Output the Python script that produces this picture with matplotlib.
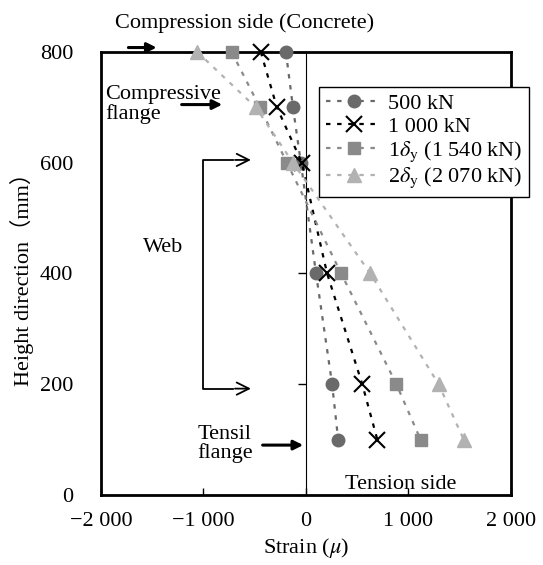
import matplotlib
matplotlib.use("Agg")
import matplotlib.pyplot as plt
from matplotlib.ticker import NullFormatter

plt.rcParams['font.family'] = ['Liberation Serif', 'Noto Sans CJK SC', 'DejaVu Sans']
plt.rcParams['mathtext.fontset'] = 'stix'

# heights (mm) where strain was measured
heights = [800, 700, 600, 400, 200, 100]

# strain values
strain_500 = [-196, -127, -50, 98, 255, 314]
strain_1000 = [-441, -284, -40, 206, 549, 696]
strain_1dy = [-725, -450, -186, 343, 882, 1118]
strain_2dy = [-1060, -490, -127, 627, 1294, 1539]

labels = ["500 kN", "1 000 kN",
          r"1$\delta_{\rm y}$ (1 540 kN)", r"2$\delta_{\rm y}$ (2 070 kN)"]
xtick_vals = [-2000, -1000, 0, 1000, 2000]
xtick_labels = ["−2 000", "−1 000", "0", "1 000", "2 000"]
ytick_vals = [0, 200, 400, 600, 800]

fig = plt.figure(figsize=(5.43, 5.65), dpi=100)
ax = fig.add_axes([0.186, 0.124, 0.755, 0.784])

dash = (0, (2, 3))
ax.plot(strain_500, heights, linestyle=dash, color='#6a6a6a', lw=1.6,
        marker='o', ms=9, mfc='#6a6a6a', mec='#6a6a6a', label=labels[0], clip_on=False, zorder=5)
ax.plot(strain_1000, heights, linestyle=dash, color='black', lw=1.6,
        marker='x', ms=11, mew=1.5, label=labels[1], clip_on=False, zorder=5)
ax.plot(strain_1dy, heights, linestyle=dash, color='#8a8a8a', lw=1.6,
        marker='s', ms=9, mfc='#8a8a8a', mec='#8a8a8a', label=labels[2], clip_on=False, zorder=5)
ax.plot(strain_2dy, heights, linestyle=dash, color='#b2b2b2', lw=1.6,
        marker='^', ms=10, mfc='#b2b2b2', mec='#b2b2b2', label=labels[3], clip_on=False, zorder=5)

ax.set_xlim(-2000, 2000)
ax.set_ylim(0, 800)
for s in ax.spines.values():
    s.set_linewidth(2)
ax.set_xticks(xtick_vals, labels=xtick_labels)
ax.set_yticks(ytick_vals)
ax.tick_params(axis='x', direction='in', length=5, width=1, labelsize=16, pad=12)
ax.tick_params(axis='y', length=0, labelsize=16, pad=20)

# vertical axis through zero strain with its ticks
zero = ax.secondary_yaxis(0.5)
zero.spines['left'].set_linewidth(1)
zero.set_yticks(ytick_vals)
zero.yaxis.set_major_formatter(NullFormatter())
zero.tick_params(direction='in', length=6, width=1)

ax.set_xlabel(r"Strain ($\mu$)", fontsize=16, labelpad=4)
ax.set_ylabel("Height direction（mm）", fontsize=16, labelpad=4)

leg = ax.legend(loc='upper left', bbox_to_anchor=(0.532, 0.921), borderaxespad=0,
                fontsize=16, handlelength=2.5, handletextpad=0.3, labelspacing=0.1,
                borderpad=0.3, fancybox=False, framealpha=1, edgecolor='black')
leg.get_frame().set_linewidth(1)

fs = 16
ax.text(-600, 835, "Compression side (Concrete)", fontsize=fs, ha='center', va='bottom',
        clip_on=False)
ax.annotate("", xy=(-1430, 808), xytext=(-1760, 808),
            arrowprops=dict(arrowstyle='-|>', lw=2.2, color='black', mutation_scale=14),
            annotation_clip=False)
ax.text(-1960, 705, "Compressive\nflange", fontsize=fs, ha='left', va='center', linespacing=1.0)
ax.annotate("", xy=(-790, 705), xytext=(-1240, 705),
            arrowprops=dict(arrowstyle='-|>', lw=2.2, color='black', mutation_scale=14))
ax.text(-1390, 447, "Web", fontsize=fs, ha='center', va='center')
ax.plot([-710, -1000, -1000, -710], [605, 605, 192, 192], color='black', lw=1.3)
ax.annotate("", xy=(-510, 605), xytext=(-720, 605),
            arrowprops=dict(arrowstyle='->', lw=1.3, color='black', mutation_scale=22))
ax.annotate("", xy=(-510, 192), xytext=(-720, 192),
            arrowprops=dict(arrowstyle='->', lw=1.3, color='black', mutation_scale=22))
ax.text(-790, 92, "Tensil\nflange", fontsize=fs, ha='center', va='center', linespacing=1.0)
ax.annotate("", xy=(0, 90), xytext=(-450, 90),
            arrowprops=dict(arrowstyle='-|>', lw=2.2, color='black', mutation_scale=14))
ax.text(920, 18, "Tension side", fontsize=fs, ha='center', va='center')

fig.savefig("out.png", dpi=100)
